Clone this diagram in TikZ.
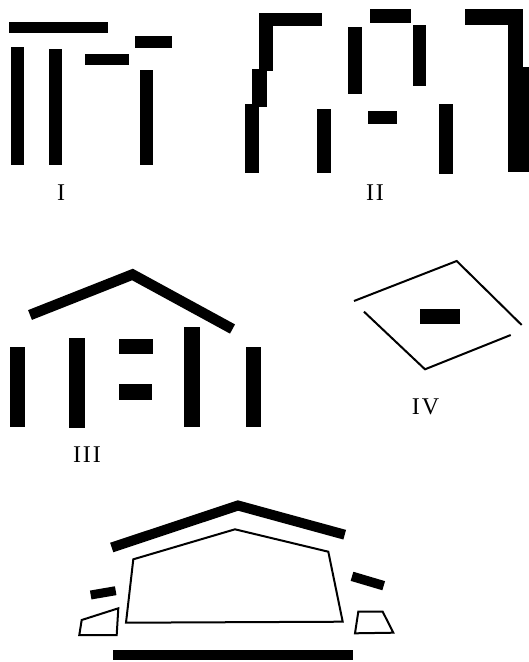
\documentclass[tikz,border=0pt]{standalone}
\usepackage{fontspec}
\newfontfamily\lblfont[LetterSpace=8]{Liberation Serif}
\begin{document}
\begin{tikzpicture}[x=1pt,y=-1pt,
  blk/.style={fill=black},
  thick roof/.style={draw=black,line width=10.5pt,line join=miter,line cap=butt},
  thinline/.style={draw=black,line width=2pt,line join=miter},
  lbl/.style={font=\lblfont\fontsize{24}{28}\selectfont,inner sep=0pt}]
\useasboundingbox (0,0) rectangle (528,662);
% ---------- I ----------
\fill[blk] (9,22) rectangle (108,33);
\fill[blk] (11,47) rectangle (24,165);
\fill[blk] (49,49) rectangle (62,165);
\fill[blk] (85,54) rectangle (129,65);
\fill[blk] (135,36) rectangle (172,48);
\fill[blk] (140,70) rectangle (153,165);
\node[lbl] (l1) at (61,193) {I};
% ---------- II ----------
\fill[blk] (259,13) rectangle (322,26);
\fill[blk] (259,13) rectangle (273,71);
\fill[blk] (252,69) rectangle (267,107);
\fill[blk] (245,104) rectangle (259,173);
\fill[blk] (348,27) rectangle (362,94);
\fill[blk] (370,9) rectangle (411,23);
\fill[blk] (413,25) rectangle (426,86);
\fill[blk] (368,111) rectangle (397,124);
\fill[blk] (317,109) rectangle (331,173);
\fill[blk] (439,104) rectangle (453,174);
\fill[blk] (465,9) rectangle (523,25);
\fill[blk] (508,9) rectangle (523,67);
\fill[blk] (508,67) rectangle (529,172);
\node[lbl] (l2) at (375,193) {II};
% ---------- III ----------
\draw[thick roof] (30,315) -- (132.5,274.5) -- (232.5,329);
\fill[blk] (9.5,347) rectangle (24.5,427);
\fill[blk] (68.5,338) rectangle (84.5,427.5);
\fill[blk] (118.5,338.5) rectangle (152.5,354);
\fill[blk] (118.5,384) rectangle (152,400);
\fill[blk] (183.5,327) rectangle (200,427);
\fill[blk] (246,347) rectangle (260.5,427);
\node[lbl] (l3) at (87,455) {III};
% ---------- IV ----------
\draw[thinline] (354,301) -- (456.7,261) -- (521.7,325);
\draw[thinline] (364,311.7) -- (425,369.3) -- (510.7,335);
\fill[blk] (419.5,309) rectangle (459.5,323.5);
\node[lbl] (l4) at (425.5,407) {IV};
% ---------- V ----------
\draw[thick roof,line width=10pt] (111.7,547.5) -- (238,505.5) -- (344.7,534.7);
\draw[thinline] (133.3,559.3) -- (235,529.3) -- (328.3,551.7) -- (342.7,621.7) -- (126,622.7) -- cycle;
\draw[thick roof,line width=9pt] (90.7,595) -- (115.7,590.7);
\draw[thinline] (81.7,620) -- (118.3,608.3) -- (116.7,635) -- (79.3,635) -- cycle;
\draw[thick roof,line width=9.5pt] (352,576.3) -- (383.7,585.7);
\draw[thinline] (358.3,611.7) -- (382.7,611.7) -- (393.3,632.7) -- (355,633.3) -- cycle;
\fill[blk] (113.3,650) rectangle (352.7,660);
\end{tikzpicture}
\end{document}
